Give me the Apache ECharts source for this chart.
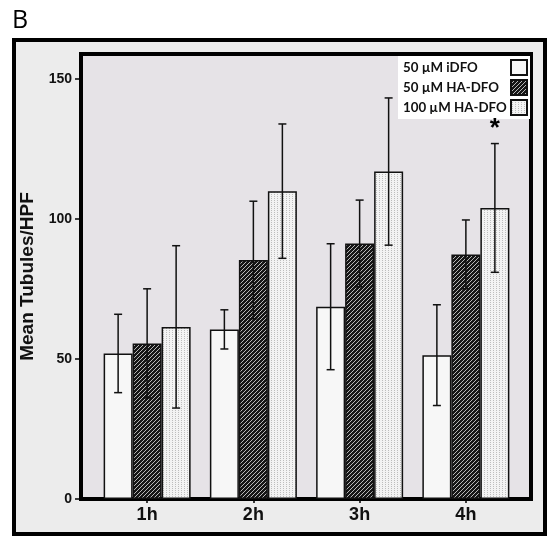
<!DOCTYPE html>
<html>
<head>
<meta charset="utf-8">
<script src="https://cdn.jsdelivr.net/npm/echarts@6/dist/echarts.min.js"></script>
<style>
  html, body { margin: 0; padding: 0; background: #fff; }
  #chart { width: 547px; height: 536px; }
</style>
</head>
<body>
<div id="chart"></div>
<script>
// data
const categories = ['1h', '2h', '3h', '4h']
const seriesNames = ['50 µM iDFO', '50 µM HA-DFO', '100 µM HA-DFO']
const iDFO = [52, 60.6, 68.7, 51.4]
const iDFOErr = [14, 7, 22.5, 18]
const ha50 = [55.6, 85.4, 91.3, 87.4]
const ha50Err = [19.5, 21, 15.5, 12.3]
const ha100 = [61.5, 110, 117, 104]
const ha100Err = [29, 24, 26.3, 23]
const ha100Sig = ['', '', '', '*']
const yTicks = [0, 50, 100, 150]

const BAR_W = 29

// fill patterns
const makeHatch = () => {
  const c = document.createElement('canvas')
  c.width = 4
  c.height = 4
  const ctx = c.getContext('2d')
  ctx.fillStyle = '#161616'
  ctx.fillRect(0, 0, 4, 4)
  ctx.strokeStyle = '#b8b8b8'
  ctx.lineWidth = 1
  ctx.beginPath()
  ctx.moveTo(0, 4); ctx.lineTo(4, 0)
  ctx.moveTo(-1, 1); ctx.lineTo(1, -1)
  ctx.moveTo(3, 5); ctx.lineTo(5, 3)
  ctx.stroke()
  return c
}
const makeDots = () => {
  const c = document.createElement('canvas')
  c.width = 3
  c.height = 2
  const ctx = c.getContext('2d')
  ctx.fillStyle = '#f3f3f3'
  ctx.fillRect(0, 0, 3, 2)
  ctx.fillStyle = '#bdbdbd'
  ctx.fillRect(1, 0, 1, 1)
  return c
}

const fills = [
  '#f7f7f7',
  { image: makeHatch(), repeat: 'repeat' },
  { image: makeDots(), repeat: 'repeat' }
]

const means = [iDFO, ha50, ha100]
const errs = [iDFOErr, ha50Err, ha100Err]

// error bar rows: [category index, group index, low, high, mark]
const errRows = []
means.forEach((vals, g) => {
  vals.forEach((v, i) => {
    errRows.push([i, g, v - errs[g][i], v + errs[g][i], g === 2 ? ha100Sig[i] : ''])
  })
})

const chart = echarts.init(document.getElementById('chart'))

const axisFont = { fontFamily: 'Liberation Sans', fontWeight: 'bold', color: '#111' }
const legendFont = { fontFamily: 'Lato', fontWeight: 'bold', fontSize: 13.3, color: '#111' }

const option = {
  animation: false,
  backgroundColor: '#fff',
  graphic: [
    {
      type: 'rect',
      z: -10,
      shape: { x: 14, y: 40, width: 531, height: 494 },
      style: { fill: '#ececec', stroke: '#000', lineWidth: 4 }
    },
    {
      type: 'text',
      left: 12,
      top: 8,
      style: { text: 'B', fontSize: 25, fontFamily: 'Open Sans', fill: '#000' }
    }
  ],
  grid: [
    {
      left: 81, right: 16, top: 54, bottom: 37,
      show: true,
      backgroundColor: '#e6e3e7',
      borderColor: '#000',
      borderWidth: 4
    },
    { left: 94, right: 28, top: 54, bottom: 37 }
  ],
  legend: {
    orient: 'vertical',
    left: 398,
    top: 56,
    align: 'right',
    backgroundColor: '#fff',
    padding: [3, 2, 3, 5],
    itemWidth: 16,
    itemHeight: 15,
    itemGap: 3,
    icon: 'rect',
    data: seriesNames,
    formatter: name => '{t|' + name + '}',
    textStyle: {
      ...legendFont,
      rich: {
        t: { ...legendFont, width: 103, align: 'left' }
      }
    }
  },
  xAxis: [
    { type: 'value', gridIndex: 0, min: 0, max: 1, show: false },
    {
      type: 'category',
      gridIndex: 1,
      data: categories,
      axisLine: { show: true, lineStyle: { width: 0, color: '#000' } },
      axisTick: { show: true, alignWithLabel: true, length: 4, lineStyle: { color: '#000', width: 1.5 } },
      axisLabel: { ...axisFont, fontSize: 18, margin: 7 }
    }
  ],
  yAxis: [
    {
      type: 'value',
      gridIndex: 0,
      min: 0,
      max: 159,
      interval: 50,
      name: 'Mean Tubules/HPF',
      nameLocation: 'middle',
      nameGap: 36,
      nameTextStyle: { ...axisFont, fontSize: 19 },
      axisLine: { show: false },
      axisTick: { show: true, length: 6, customValues: yTicks, lineStyle: { color: '#000', width: 1.5 } },
      axisLabel: { ...axisFont, fontSize: 14, margin: 9, customValues: yTicks },
      splitLine: { show: false }
    },
    { type: 'value', gridIndex: 1, min: 0, max: 159, show: false }
  ],
  series: [
    ...seriesNames.map((name, g) => ({
      name,
      type: 'bar',
      xAxisIndex: 1,
      yAxisIndex: 1,
      barWidth: BAR_W,
      barGap: '0%',
      data: means[g],
      itemStyle: { color: fills[g], borderColor: '#111', borderWidth: 1.5 }
    })),
    {
      type: 'custom',
      xAxisIndex: 1,
      yAxisIndex: 1,
      z: 5,
      encode: { x: 0, y: [2, 3] },
      data: errRows,
      renderItem: (params, api) => {
        const cat = api.value(0)
        const g = api.value(1)
        const lo = api.coord([cat, api.value(2)])
        const hi = api.coord([cat, api.value(3)])
        const x = lo[0] + (g - 1) * BAR_W
        const cap = 4
        const style = { stroke: '#111', lineWidth: 1.5 }
        const children = [
          { type: 'line', shape: { x1: x, y1: lo[1], x2: x, y2: hi[1] }, style },
          { type: 'line', shape: { x1: x - cap, y1: lo[1], x2: x + cap, y2: lo[1] }, style },
          { type: 'line', shape: { x1: x - cap, y1: hi[1], x2: x + cap, y2: hi[1] }, style }
        ]
        const mark = api.value(4)
        if (mark) {
          children.push({
            type: 'text',
            style: {
              x: x, y: hi[1] - 2,
              text: mark,
              align: 'center',
              verticalAlign: 'bottom',
              fontSize: 26,
              fontWeight: 'bold',
              fontFamily: 'Liberation Sans',
              fill: '#000'
            }
          })
        }
        return { type: 'group', children }
      }
    }
  ]
}

chart.setOption(option)
</script>
</body>
</html>
